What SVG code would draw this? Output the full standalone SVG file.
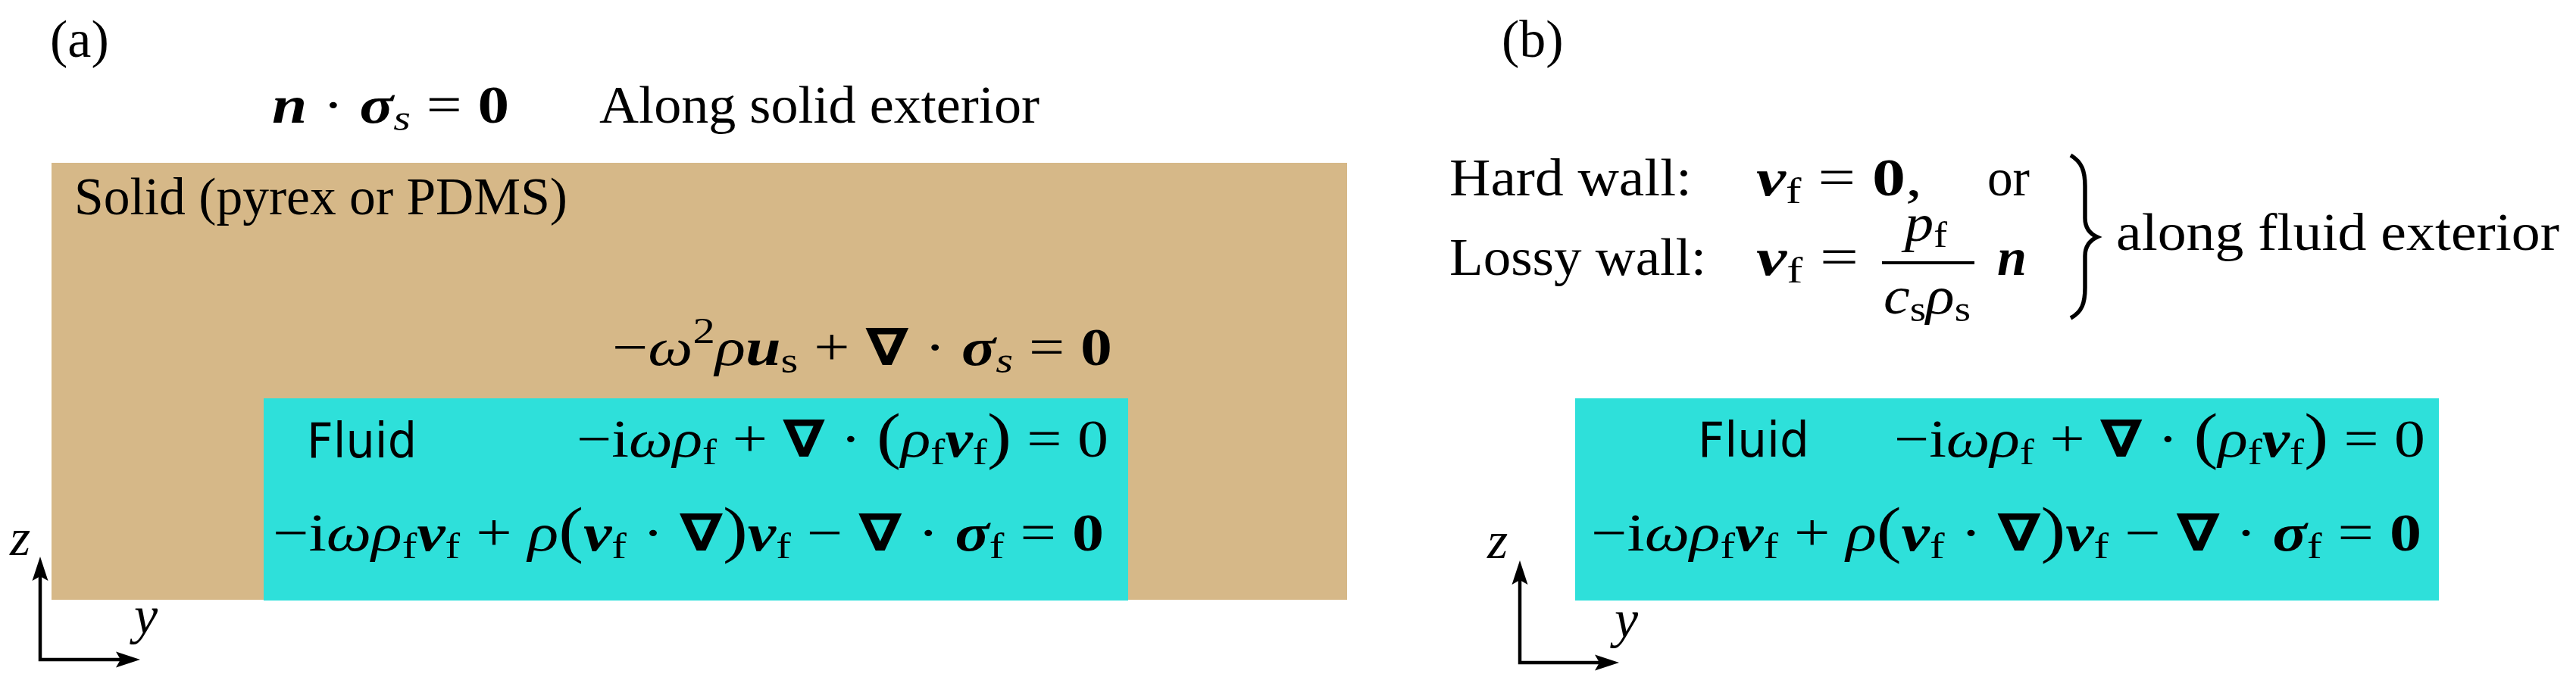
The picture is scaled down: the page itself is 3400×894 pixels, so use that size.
<svg xmlns="http://www.w3.org/2000/svg" width="3400" height="894" viewBox="0 0 3400 894">
<style>
.m{font-family:"Liberation Serif","DejaVu Serif",serif;font-size:70px;fill:#000}
.i{font-style:italic}
.b{font-weight:bold}
.bi{font-style:italic;font-weight:bold}
.sub{font-size:49px;font-style:normal;font-weight:normal}
.subi{font-size:49px;font-style:italic;font-weight:normal}
.nab{font-family:"DejaVu Sans",sans-serif;font-weight:bold;font-size:68px}
.par{font-size:82px}
.sans{font-family:"DejaVu Sans","Liberation Sans",sans-serif;font-size:64px;fill:#000}
.solid{fill:#D6B888}
.fluid{fill:#2EE0DA}
.axis{fill:none;stroke:#000;stroke-width:4.5}
</style>
<defs>
<marker id="arr" viewBox="0 -11 33 22" markerUnits="userSpaceOnUse" markerWidth="33" markerHeight="22" refX="12" refY="0" orient="auto-start-reverse">
<path d="M0,-10.5 L32,0 L0,10.5 L6,0 Z" fill="#000"/>
</marker>
</defs>
<rect width="3400" height="894" fill="#fff"/>

<g id="label-a"><text class="m" x="66" y="75">(a)</text></g>
<g id="solid-bc">
<text class="m" x="359" y="162" textLength="313" lengthAdjust="spacingAndGlyphs"><tspan class="bi">n</tspan> · <tspan class="bi">σ</tspan><tspan class="subi" dy="10">s</tspan><tspan dy="-10"> = </tspan><tspan class="b">0</tspan></text>
<text class="m" x="791" y="162" textLength="581" lengthAdjust="spacingAndGlyphs">Along solid exterior</text>
</g>
<g id="solid">
<rect class="solid" x="68" y="215" width="1710" height="577"/>
<text class="m" x="98" y="283" textLength="651" lengthAdjust="spacingAndGlyphs">Solid (pyrex or PDMS)</text>
<text class="m" x="808" y="482" textLength="660" lengthAdjust="spacingAndGlyphs"><tspan>−</tspan><tspan class="i">ω</tspan><tspan class="sub" dy="-29">2</tspan><tspan class="i" dy="29">ρ</tspan><tspan class="bi">u</tspan><tspan class="sub" dy="10">s</tspan><tspan dy="-10"> + </tspan><tspan class="nab">∇</tspan> · <tspan class="bi">σ</tspan><tspan class="subi" dy="10">s</tspan><tspan dy="-10"> = </tspan><tspan class="b">0</tspan></text>
</g>
<g id="fluid-a">
<rect class="fluid" x="348" y="526" width="1141" height="267"/>
<text class="sans" x="405" y="604" textLength="145" lengthAdjust="spacingAndGlyphs">Fluid</text>
<text class="m" x="761" y="603" textLength="702" lengthAdjust="spacingAndGlyphs"><tspan>−i</tspan><tspan class="i">ωρ</tspan><tspan class="sub" dy="10">f</tspan><tspan dy="-10"> + </tspan><tspan class="nab">∇</tspan> · <tspan class="par">(</tspan><tspan class="i">ρ</tspan><tspan class="sub" dy="10">f</tspan><tspan class="bi" dy="-10">v</tspan><tspan class="sub" dy="10">f</tspan><tspan class="par" dy="-10">)</tspan> = 0</text>
<text class="m" x="360" y="727" textLength="1097" lengthAdjust="spacingAndGlyphs"><tspan>−i</tspan><tspan class="i">ωρ</tspan><tspan class="sub" dy="10">f</tspan><tspan class="bi" dy="-10">v</tspan><tspan class="sub" dy="10">f</tspan><tspan dy="-10"> + </tspan><tspan class="i">ρ</tspan><tspan class="par">(</tspan><tspan class="bi">v</tspan><tspan class="sub" dy="10">f</tspan><tspan dy="-10"> · </tspan><tspan class="nab">∇</tspan><tspan class="par">)</tspan><tspan class="bi">v</tspan><tspan class="sub" dy="10">f</tspan><tspan dy="-10"> − </tspan><tspan class="nab">∇</tspan> · <tspan class="bi">σ</tspan><tspan class="sub" dy="10">f</tspan><tspan dy="-10"> = </tspan><tspan class="b">0</tspan></text>
</g>

<g id="label-b"><text class="m" x="1982" y="75">(b)</text></g>
<g id="fluid-bc">
<text class="m" x="1913" y="258" textLength="320" lengthAdjust="spacingAndGlyphs">Hard wall:</text>
<text class="m" x="2318" y="258" textLength="219" lengthAdjust="spacingAndGlyphs"><tspan class="bi">v</tspan><tspan class="sub" dy="10">f</tspan><tspan dy="-10"> = </tspan><tspan class="b">0</tspan>,</text>
<text class="m" x="2623" y="258" textLength="56" lengthAdjust="spacingAndGlyphs">or</text>
<text class="m" x="1913" y="363" textLength="339" lengthAdjust="spacingAndGlyphs">Lossy wall:</text>
<text class="m" x="2318" y="363" textLength="135" lengthAdjust="spacingAndGlyphs"><tspan class="bi">v</tspan><tspan class="sub" dy="10">f</tspan><tspan dy="-10"> =</tspan></text>
<text class="m" x="2514" y="318" textLength="56" lengthAdjust="spacingAndGlyphs"><tspan class="i">p</tspan><tspan class="sub" dy="8">f</tspan></text>
<rect x="2484" y="345" width="122" height="4" fill="#000"/>
<text class="m" x="2486" y="414" textLength="115" lengthAdjust="spacingAndGlyphs"><tspan class="i">c</tspan><tspan class="sub" dy="10">s</tspan><tspan class="i" dy="-10">ρ</tspan><tspan class="sub" dy="10">s</tspan></text>
<text class="m bi" x="2636" y="363">n</text>
<path d="M2733,205 C2748,214 2752,226 2752,246 L2752,288 C2752,300 2757,308 2768,313 C2757,318 2752,326 2752,338 L2752,380 C2752,400 2748,412 2733,420" fill="none" stroke="#000" stroke-width="5.5"/>
<text class="m" x="2793" y="330" textLength="585" lengthAdjust="spacingAndGlyphs">along fluid exterior</text>
</g>
<g id="fluid-b">
<rect class="fluid" x="2079" y="526" width="1140" height="267"/>
<text class="sans" x="2241" y="603" textLength="147" lengthAdjust="spacingAndGlyphs">Fluid</text>
<text class="m" x="2500" y="603" textLength="701" lengthAdjust="spacingAndGlyphs"><tspan>−i</tspan><tspan class="i">ωρ</tspan><tspan class="sub" dy="10">f</tspan><tspan dy="-10"> + </tspan><tspan class="nab">∇</tspan> · <tspan class="par">(</tspan><tspan class="i">ρ</tspan><tspan class="sub" dy="10">f</tspan><tspan class="bi" dy="-10">v</tspan><tspan class="sub" dy="10">f</tspan><tspan class="par" dy="-10">)</tspan> = 0</text>
<text class="m" x="2100" y="727" textLength="1096" lengthAdjust="spacingAndGlyphs"><tspan>−i</tspan><tspan class="i">ωρ</tspan><tspan class="sub" dy="10">f</tspan><tspan class="bi" dy="-10">v</tspan><tspan class="sub" dy="10">f</tspan><tspan dy="-10"> + </tspan><tspan class="i">ρ</tspan><tspan class="par">(</tspan><tspan class="bi">v</tspan><tspan class="sub" dy="10">f</tspan><tspan dy="-10"> · </tspan><tspan class="nab">∇</tspan><tspan class="par">)</tspan><tspan class="bi">v</tspan><tspan class="sub" dy="10">f</tspan><tspan dy="-10"> − </tspan><tspan class="nab">∇</tspan> · <tspan class="bi">σ</tspan><tspan class="sub" dy="10">f</tspan><tspan dy="-10"> = </tspan><tspan class="b">0</tspan></text>
</g>

<g id="axes">
<path class="axis" d="M53,755 L53,871 L165,871" marker-start="url(#arr)" marker-end="url(#arr)"/>
<text class="m i" x="13" y="733">z</text>
<text class="m i" x="177" y="836">y</text>
<path class="axis" d="M2006,760 L2006,875 L2117,875" marker-start="url(#arr)" marker-end="url(#arr)"/>
<text class="m i" x="1963" y="737">z</text>
<text class="m i" x="2131" y="841">y</text>
</g>
</svg>
